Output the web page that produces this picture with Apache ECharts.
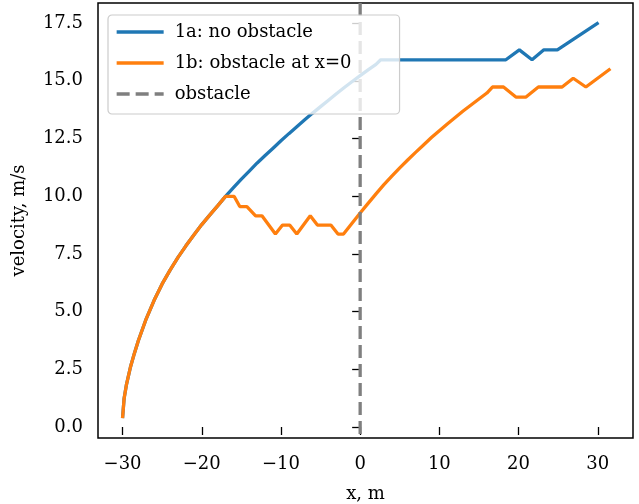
<!DOCTYPE html>
<html>
<head>
<meta charset="utf-8">
<script src="https://cdn.jsdelivr.net/npm/echarts@6/dist/echarts.min.js"></script>
<style>
  html, body { margin: 0; padding: 0; background: #fff; }
  #chart { width: 639px; height: 504px; }
</style>
</head>
<body>
<div id="chart"></div>
<script>
// run 1a: no obstacle
var xNoObstacle = [-30, -29.8, -29.5, -29, -28.5, -28, -27, -26, -25, -24, -23, -22, -21, -20, -19, -18, -17,
  -16, -15, -14, -13, -12, -11, -10, -9, -8, -7, -6, -5, -4, -3, -2, -1, 0, 1, 2, 2.6,
  18.4, 20.1, 21.7, 23.2, 24.9, 30.1];
var vNoObstacle = [0.38, 1.25, 1.85, 2.6, 3.2, 3.75, 4.7, 5.5, 6.2, 6.8, 7.35, 7.85, 8.32, 8.77, 9.18, 9.58, 9.99,
  10.37, 10.74, 11.09, 11.44, 11.76, 12.08, 12.4, 12.71, 13.01, 13.31, 13.6, 13.88, 14.16, 14.44, 14.71, 14.97, 15.22, 15.47, 15.71, 15.91,
  15.91, 16.34, 15.91, 16.34, 16.34, 17.52];

// run 1b: obstacle at x=0
var xObstacle = [-30, -29.8, -29.5, -29, -28.5, -28, -27, -26, -25, -24, -23, -22, -21, -20, -19, -18, -17,
  -15.9, -15.2, -14.3, -13.2, -12.4, -10.7, -9.8, -8.9, -8.0, -6.3, -5.4, -3.7, -2.8, -2.1,
  -1, 0, 1, 2, 3, 4, 5, 6, 7, 8, 9, 10, 11, 12, 13, 14, 15, 16, 16.7,
  18.1, 19.7, 20.9, 22.5, 25.5, 26.9, 28.5, 31.6];
var vObstacle = [0.38, 1.25, 1.85, 2.6, 3.2, 3.75, 4.7, 5.5, 6.2, 6.8, 7.35, 7.85, 8.32, 8.77, 9.18, 9.58, 9.99,
  9.99, 9.55, 9.55, 9.15, 9.15, 8.36, 8.75, 8.75, 8.36, 9.15, 8.75, 8.75, 8.36, 8.36,
  8.84, 9.27, 9.69, 10.1, 10.5, 10.87, 11.23, 11.57, 11.9, 12.22, 12.54, 12.84, 13.13, 13.41, 13.69, 13.95, 14.21, 14.47, 14.73,
  14.73, 14.29, 14.29, 14.73, 14.73, 15.11, 14.73, 15.52];

var obstacleX = 0;
var xTicks = [-30, -20, -10, 0, 10, 20, 30];
var yTicks = [0, 2.5, 5, 7.5, 10, 12.5, 15, 17.5];

var xMin = -33.1, xMax = 34.45;
var yMin = -0.476, yMax = 18.37;

function pairs(xs, ys) {
  var out = [];
  for (var i = 0; i < xs.length; i++) out.push([xs[i], ys[i]]);
  return out;
}

var font = 'DejaVu Serif';
var chart = echarts.init(document.getElementById('chart'), null, { renderer: 'canvas' });

var axisText = { color: '#000', fontFamily: font, fontSize: 18 };

var option = {
  animation: false,
  backgroundColor: '#fff',
  grid: {
    left: 98, right: 6, top: 3, bottom: 66,
    outerBoundsMode: 'none', containLabel: false,
    show: true, borderColor: '#000', borderWidth: 1.5, backgroundColor: 'transparent'
  },
  legend: {
    orient: 'vertical',
    left: 108, top: 15,
    itemWidth: 47, itemHeight: 14, itemGap: 13,
    padding: [8, 48, 11, 7],
    backgroundColor: 'rgba(255,255,255,0.8)',
    borderColor: '#cccccc', borderWidth: 1.2, borderRadius: 4,
    itemStyle: { opacity: 0 },
    lineStyle: { width: 3.3 },
    textStyle: { color: '#000', fontFamily: font, fontSize: 18, padding: [0, 0, 0, 6] },
    data: ['1a: no obstacle', '1b: obstacle at x=0', 'obstacle']
  },
  xAxis: {
    type: 'value', min: xMin, max: xMax,
    name: 'x, m', nameLocation: 'middle', nameGap: 47,
    nameTextStyle: axisText,
    axisLine: { show: false },
    splitLine: { show: false },
    axisTick: { show: true, length: 8, lineStyle: { color: '#000', width: 1.3 }, customValues: xTicks },
    axisLabel: {
      margin: 17, customValues: xTicks, color: '#000', fontFamily: font, fontSize: 18,
      formatter: function (v) { return String(v).replace('-', '\u2212'); }
    }
  },
  yAxis: {
    type: 'value', min: yMin, max: yMax,
    name: 'velocity, m/s', nameLocation: 'middle', nameGap: 70,
    nameTextStyle: axisText,
    axisLine: { show: false },
    splitLine: { show: false },
    axisTick: { show: true, length: 8, lineStyle: { color: '#000', width: 1.3 }, customValues: yTicks },
    axisLabel: {
      margin: 15, customValues: yTicks, color: '#000', fontFamily: font, fontSize: 18,
      formatter: function (v) { return v.toFixed(1); }
    }
  },
  series: [
    {
      name: '1a: no obstacle', type: 'line', symbol: 'none', z: 2,
      lineStyle: { color: '#1f77b4', width: 3.3 }, itemStyle: { color: '#1f77b4' },
      data: pairs(xNoObstacle, vNoObstacle)
    },
    {
      name: '1b: obstacle at x=0', type: 'line', symbol: 'none', z: 3,
      lineStyle: { color: '#ff7f0e', width: 3.3 }, itemStyle: { color: '#ff7f0e' },
      data: pairs(xObstacle, vObstacle)
    },
    {
      name: 'obstacle', type: 'line', symbol: 'none', z: 3,
      lineStyle: { color: '#7f7f7f', width: 3.3, type: [13, 6] }, itemStyle: { color: '#7f7f7f' },
      data: [[obstacleX, yMax], [obstacleX, yMin]]
    }
  ]
};
chart.setOption(option);
</script>
</body>
</html>
